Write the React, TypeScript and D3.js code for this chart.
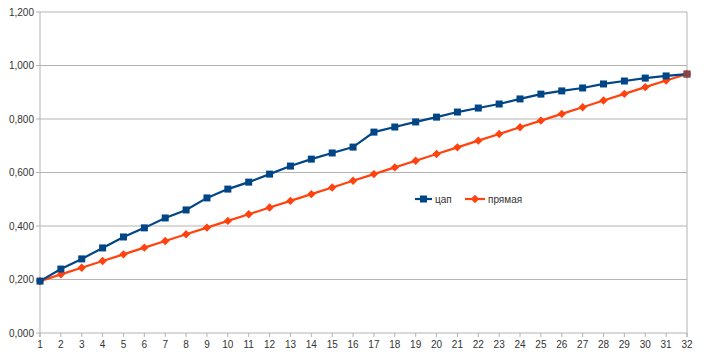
import React from "react";
import * as d3 from "d3";

const W = 706;
const H = 355;
const margin = { top: 12, right: 19, bottom: 22, left: 40 };

const xs = [1, 2, 3, 4, 5, 6, 7, 8, 9, 10, 11, 12, 13, 14, 15, 16, 17, 18, 19, 20, 21, 22, 23, 24, 25, 26, 27, 28, 29, 30, 31, 32];
const tsap = [0.194, 0.239, 0.277, 0.318, 0.359, 0.393, 0.43, 0.46, 0.505, 0.538, 0.564, 0.594, 0.624, 0.65, 0.673, 0.695,
  0.751, 0.77, 0.789, 0.807, 0.826, 0.841, 0.856, 0.875, 0.893, 0.905, 0.916, 0.931, 0.942, 0.953, 0.961, 0.968];
const pryamaya = [0.194, 0.219, 0.244, 0.269, 0.294, 0.319, 0.344, 0.369, 0.394, 0.419, 0.444, 0.469, 0.494, 0.519, 0.544, 0.569,
  0.594, 0.619, 0.644, 0.669, 0.694, 0.719, 0.744, 0.769, 0.794, 0.819, 0.844, 0.869, 0.894, 0.919, 0.944, 0.968];
const yTicks = [0, 0.2, 0.4, 0.6, 0.8, 1.0, 1.2];
const seriesNames = ["цап", "прямая"];

const BLUE = "#004586";
const ORANGE = "#ff420e";
const font = "'Liberation Sans', Arial, sans-serif";

export default function App() {
  const x = d3.scaleLinear().domain([1, 32]).range([margin.left, W - margin.right]);
  const y = d3.scaleLinear().domain([0, 1.2]).range([H - margin.bottom, margin.top]);
  const line = d3.line<number>().x((_, i) => x(xs[i])).y(d => y(d));
  const fmt = (v: number) => v.toFixed(3).replace(".", ",").replace(/^1,/, "1,");

  const diamond = d3.symbol().type(d3.symbolDiamond2).size(45)();

  return (
    <svg width={W} height={H} style={{ position: "absolute", left: 0, top: 0, background: "#fff" }} fontFamily={font}>
      {yTicks.map(t => (
        <g key={t}>
          <line x1={margin.left - 4} x2={W - margin.right} y1={y(t)} y2={y(t)} stroke="#b3b3b3" strokeWidth={1} />
          <text x={margin.left - 6} y={y(t) + 3.5} textAnchor="end" fontSize={10} fill="#333">{fmt(t)}</text>
        </g>
      ))}
      <line x1={margin.left} x2={margin.left} y1={margin.top} y2={H - margin.bottom + 4} stroke="#b3b3b3" />
      <line x1={W - margin.right} x2={W - margin.right} y1={margin.top} y2={H - margin.bottom + 4} stroke="#b3b3b3" />
      {xs.map(v => (
        <g key={v}>
          <line x1={x(v)} x2={x(v)} y1={H - margin.bottom} y2={H - margin.bottom + 4} stroke="#b3b3b3" />
          <text x={x(v)} y={H - margin.bottom + 15} textAnchor="middle" fontSize={10} fill="#333">{v}</text>
        </g>
      ))}
      <path d={line(pryamaya) ?? ""} fill="none" stroke={ORANGE} strokeWidth={2.2} />
      {pryamaya.map((d, i) => (
        <path key={i} d={diamond ?? ""} transform={`translate(${x(xs[i])},${y(d)})`} fill={ORANGE} />
      ))}
      <path d={line(tsap) ?? ""} fill="none" stroke={BLUE} strokeWidth={2.2} />
      {tsap.map((d, i) => (
        <rect key={i} x={x(xs[i]) - 3.5} y={y(d) - 3.5} width={7} height={7} fill={BLUE} />
      ))}
      <rect x={x(32) - 3.5} y={y(0.968) - 3.5} width={7} height={7} fill={ORANGE} opacity={0.55} />
      <g transform="translate(415,199)">
        <line x1={0} x2={17} y1={0} y2={0} stroke={BLUE} strokeWidth={2.2} />
        <rect x={5} y={-3.5} width={7} height={7} fill={BLUE} />
        <text x={20} y={3.5} fontSize={10} fill="#333">{seriesNames[0]}</text>
      </g>
      <g transform="translate(465,199)">
        <line x1={0} x2={20} y1={0} y2={0} stroke={ORANGE} strokeWidth={2.2} />
        <path d={diamond ?? ""} transform="translate(10,0)" fill={ORANGE} />
        <text x={23} y={3.5} fontSize={10} fill="#333">{seriesNames[1]}</text>
      </g>
    </svg>
  );
}
